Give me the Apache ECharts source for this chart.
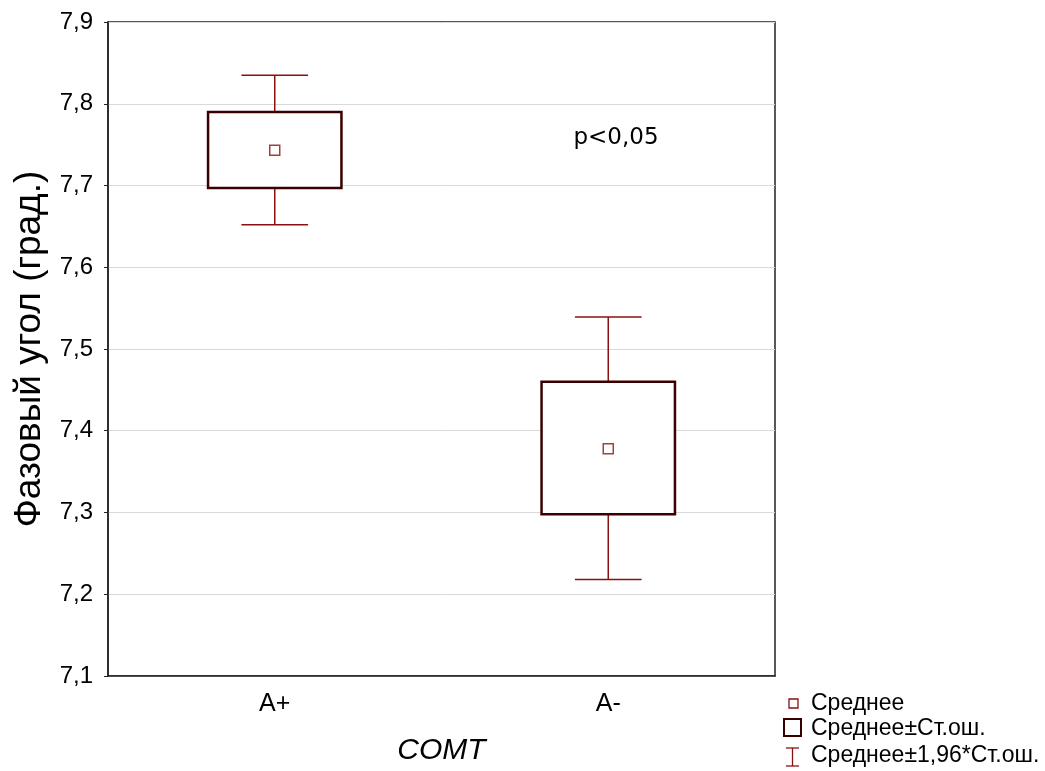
<!DOCTYPE html>
<html>
<head>
<meta charset="utf-8">
<title>COMT</title>
<script src="https://cdn.jsdelivr.net/npm/echarts@6/dist/echarts.min.js"></script>
<style>
    html, body { margin: 0; padding: 0; background: #fff; }
    #chart { width: 1045px; height: 771px; }
</style>
</head>
<body>
<div id="chart"></div>
<script>
// данные
var categories = ['A+', 'A-'];
var means = [7.743, 7.378];
var seLow = [7.697, 7.298];
var seHigh = [7.790, 7.460];
var ciLow = [7.652, 7.218];
var ciHigh = [7.835, 7.539];
var yTicks = { min: 7.1, max: 7.9, interval: 0.1 };

var BOX_COLOR = '#3a0000';
var WHISKER_COLOR = '#8b1010';
var FONT = '"Liberation Sans", Arial, sans-serif';

// небольшая замена $.extend
var $ = { extend: function(a, b){ for (var k in b) { a[k] = b[k]; } return a; } };

var CHART = {
    init: function(){
        var _this = this;
        var myChart = echarts.init(document.getElementById('chart'));
        myChart.setOption(_this.init_option());
    },
    box_data: function(){
        return categories.map(function(c, i){ return [i, seLow[i], seHigh[i]]; });
    },
    whisker_data: function(){
        return categories.map(function(c, i){ return [i, ciLow[i], ciHigh[i], seLow[i], seHigh[i]]; });
    },
    render_box: function(params, api){
        var idx = api.value(0);
        var lo = api.coord([idx, api.value(1)]);
        var hi = api.coord([idx, api.value(2)]);
        var w = api.size([1, 0])[0] * 0.4;
        return {
            type: 'rect',
            shape: { x: lo[0] - w / 2, y: hi[1], width: w, height: lo[1] - hi[1] },
            style: { fill: '#fff', stroke: BOX_COLOR, lineWidth: 2.5 }
        };
    },
    render_whisker: function(params, api){
        var idx = api.value(0);
        var lo = api.coord([idx, api.value(1)]);
        var hi = api.coord([idx, api.value(2)]);
        var bLo = api.coord([idx, api.value(3)]);
        var bHi = api.coord([idx, api.value(4)]);
        var w = api.size([1, 0])[0] * 0.2;
        var st = { stroke: WHISKER_COLOR, lineWidth: 1.5 };
        return {
            type: 'group',
            children: [
                { type: 'line', shape: { x1: hi[0], y1: hi[1], x2: hi[0], y2: bHi[1] }, style: st },
                { type: 'line', shape: { x1: lo[0], y1: bLo[1], x2: lo[0], y2: lo[1] }, style: st },
                { type: 'line', shape: { x1: hi[0] - w / 2, y1: hi[1], x2: hi[0] + w / 2, y2: hi[1] }, style: st },
                { type: 'line', shape: { x1: lo[0] - w / 2, y1: lo[1], x2: lo[0] + w / 2, y2: lo[1] }, style: st }
            ]
        };
    },
    legend_graphic: function(){
        var txt = { fontSize: 23, fontFamily: FONT, fill: '#000', verticalAlign: 'middle' };
        return [
            { type: 'rect', shape: { x: 789, y: 699, width: 9, height: 9 },
              style: { fill: '#fff', stroke: WHISKER_COLOR, lineWidth: 1.3 } },
            { type: 'rect', shape: { x: 784, y: 719, width: 17, height: 17 },
              style: { fill: '#fff', stroke: BOX_COLOR, lineWidth: 2 } },
            { type: 'line', shape: { x1: 792.5, y1: 748, x2: 792.5, y2: 766 },
              style: { stroke: WHISKER_COLOR, lineWidth: 1.3 } },
            { type: 'line', shape: { x1: 786, y1: 748, x2: 799, y2: 748 },
              style: { stroke: WHISKER_COLOR, lineWidth: 1.3 } },
            { type: 'line', shape: { x1: 786, y1: 766, x2: 799, y2: 766 },
              style: { stroke: WHISKER_COLOR, lineWidth: 1.3 } },
            { type: 'text', x: 811, y: 704, style: $.extend({ text: 'Среднее' }, txt) },
            { type: 'text', x: 811, y: 729, style: $.extend({ text: 'Среднее±Ст.ош.' }, txt) },
            { type: 'text', x: 811, y: 756, style: $.extend({ text: 'Среднее±1,96*Ст.ош.' }, txt) },
            { type: 'text', x: 616, y: 138,
              style: { text: 'p<0,05', fontSize: 23, fontFamily: '"DejaVu Sans", sans-serif',
                       fill: '#000', align: 'center', verticalAlign: 'middle' } }
        ];
    },
    init_option: function(){
        var _this = this;
        return {
            animation: false,
            backgroundColor: '#fff',
            grid: { left: 108, right: 270, top: 22, bottom: 92, show: true,
                    borderColor: '#222', borderWidth: 1.5, backgroundColor: 'transparent' },
            xAxis: {
                type: 'category',
                data: categories,
                boundaryGap: true,
                name: 'COMT',
                nameLocation: 'middle',
                nameGap: 60,
                nameTextStyle: { fontSize: 30, fontStyle: 'italic', fontFamily: FONT, color: '#000' },
                axisLine: { lineStyle: { color: '#222', width: 1.5 } },
                axisTick: { show: false },
                axisLabel: { fontSize: 25, fontFamily: FONT, color: '#000', margin: 16 },
                splitLine: { show: false }
            },
            yAxis: {
                type: 'value',
                min: yTicks.min,
                max: yTicks.max,
                interval: yTicks.interval,
                name: 'Фазовый угол (град.)',
                nameLocation: 'middle',
                nameGap: 60,
                nameTextStyle: { fontSize: 37, fontFamily: FONT, color: '#000' },
                axisLine: { show: true, lineStyle: { color: '#222', width: 1.5 } },
                axisTick: { show: true, inside: false, length: 4, lineStyle: { color: '#222' } },
                axisLabel: {
                    fontSize: 24, fontFamily: FONT, color: '#000', margin: 15,
                    formatter: function(v){ return v.toFixed(1).replace('.', ','); }
                },
                splitLine: { show: true, lineStyle: { color: '#d9d9d9', width: 1 } }
            },
            series: [
                {
                    name: 'Среднее±1,96*Ст.ош.',
                    type: 'custom',
                    renderItem: _this.render_whisker,
                    encode: { x: 0, y: [1, 2] },
                    data: _this.whisker_data(),
                    z: 2
                },
                {
                    name: 'Среднее±Ст.ош.',
                    type: 'custom',
                    renderItem: _this.render_box,
                    encode: { x: 0, y: [1, 2] },
                    data: _this.box_data(),
                    z: 3
                },
                {
                    name: 'Среднее',
                    type: 'scatter',
                    data: categories.map(function(c, i){ return [i, means[i]]; }),
                    symbol: 'rect',
                    symbolSize: 10,
                    itemStyle: { color: '#fff', borderColor: WHISKER_COLOR, borderWidth: 1.5 },
                    z: 4
                }
            ],
            graphic: _this.legend_graphic()
        };
    }
};

CHART.init();
</script>
</body>
</html>
